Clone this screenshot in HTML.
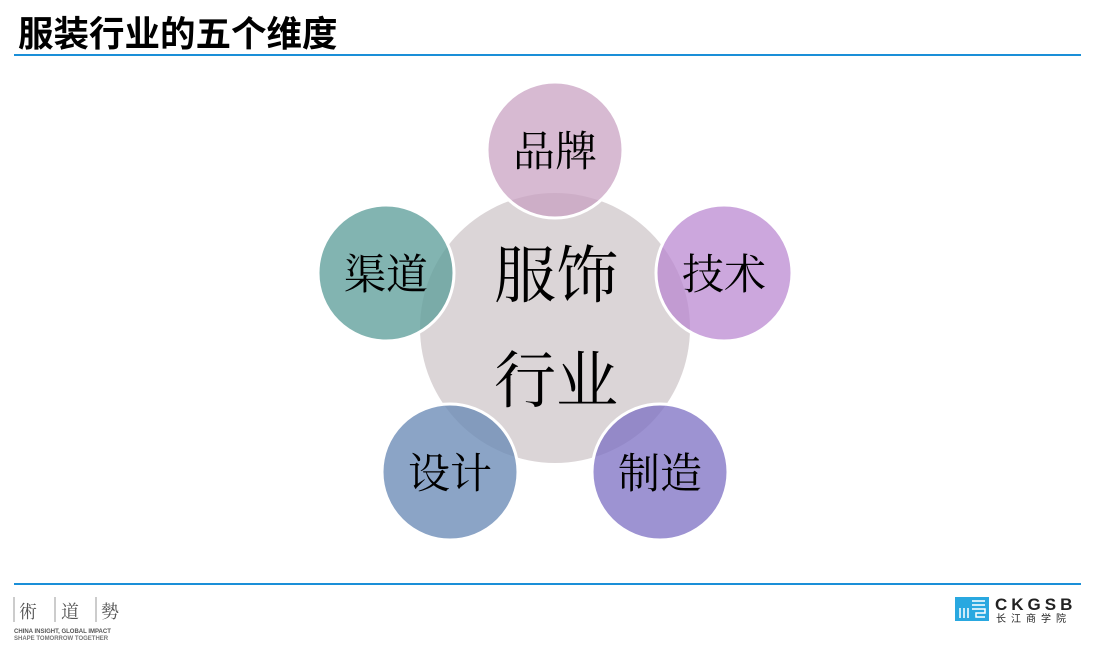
<!DOCTYPE html>
<html><head><meta charset="utf-8"><style>
body{margin:0;width:1094px;height:648px;background:#fff;overflow:hidden;position:relative;font-family:"Liberation Sans","Noto Sans CJK SC",sans-serif}
.t{position:absolute;left:18px;top:12px;font-size:35.5px;font-weight:bold;color:#000;line-height:44px}
.l{position:absolute;left:14px;width:1067px;height:2px;background:#1a8fd8}
</style></head><body>
<div class="t">服装行业的五个维度</div>
<div class="l" style="top:54px"></div>
<div class="l" style="top:583px"></div>
<svg width="1094" height="648" style="position:absolute;left:0;top:0">
<circle cx="555" cy="328" r="135" fill="#dbd5d7"/>
<g stroke="#fff" stroke-width="3">
<circle cx="555" cy="150" r="68" fill="#c89fc0" fill-opacity="0.72"/>
<circle cx="724" cy="273" r="68" fill="#b985d0" fill-opacity="0.72"/>
<circle cx="660" cy="472" r="68" fill="#7c6fc3" fill-opacity="0.75"/>
<circle cx="450" cy="472" r="68" fill="#6a8ab6" fill-opacity="0.78"/>
<circle cx="386" cy="273" r="68" fill="#5f9f9b" fill-opacity="0.78"/>
</g>
<g font-family="'Noto Serif CJK SC',serif" text-anchor="middle" fill="#000">
<text x="556" y="297" font-size="62">服饰</text>
<text x="556" y="402" font-size="62">行业</text>
<text x="555" y="166" font-size="42">品牌</text>
<text x="724" y="289" font-size="42">技术</text>
<text x="660" y="488" font-size="42">制造</text>
<text x="450" y="488" font-size="42">设计</text>
<text x="386" y="289" font-size="42">渠道</text>
</g>
<g stroke="#999" stroke-width="1"><line x1="14" y1="597" x2="14" y2="622"/><line x1="55" y1="597" x2="55" y2="622"/><line x1="96" y1="597" x2="96" y2="622"/></g>
<g font-family="'Noto Serif CJK SC',serif" font-size="18" fill="#555"><text x="19" y="618">術</text><text x="61" y="618">道</text><text x="101" y="618">勢</text></g>
<text x="14" y="633" font-size="6" font-weight="bold" fill="#555">CHINA INSIGHT, GLOBAL IMPACT</text>
<text x="14" y="640" font-size="6" font-weight="bold" fill="#777">SHAPE TOMORROW TOGETHER</text>
<rect x="955" y="597" width="34" height="24" fill="#29a8e0"/>
<g stroke="#fff" stroke-width="1.5" fill="none"><path d="M960 608v10M964 608v10M968 608v10M972 601h13M972 605h13M972 609h13v4h-9v4h9"/></g>
<text x="995" y="610" font-size="17" font-weight="bold" fill="#222" letter-spacing="4">CKGSB</text>
<text x="996" y="622" font-size="10" fill="#222" letter-spacing="5">长江商学院</text>
</svg>
</body></html>
